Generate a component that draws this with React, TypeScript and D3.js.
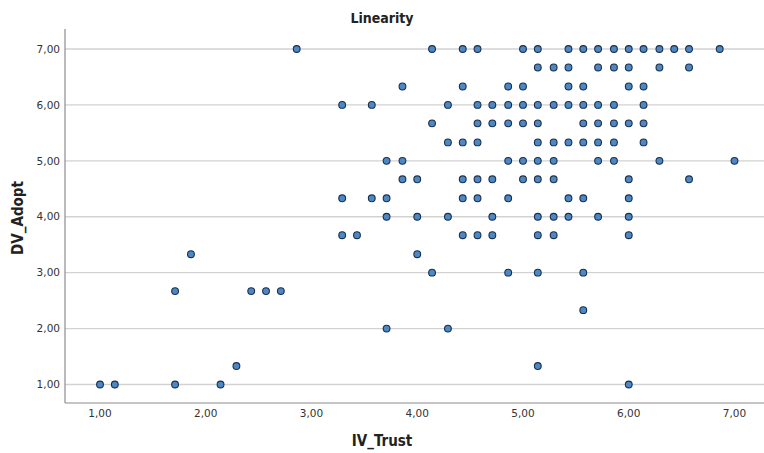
import React from "react";
import * as d3 from "d3";

// DV_Adopt levels (rows of the scatter) and the IV_Trust scores observed at each level
const dvAdoptLevels = [7.0, 6.67, 6.33, 6.0, 5.67, 5.33, 5.0, 4.67, 4.33, 4.0, 3.67, 3.33, 3.0, 2.67, 2.33, 2.0, 1.33, 1.0];

const ivTrustByLevel = [
  [2.86, 4.14, 4.43, 4.57, 5.0, 5.14, 5.43, 5.57, 5.71, 5.86, 6.0, 6.14, 6.29, 6.43, 6.57, 6.86],
  [5.14, 5.29, 5.43, 5.71, 5.86, 6.0, 6.29, 6.57],
  [3.86, 4.43, 4.86, 5.0, 5.43, 5.57, 6.0, 6.14],
  [3.29, 3.57, 4.29, 4.57, 4.71, 4.86, 5.0, 5.14, 5.29, 5.43, 5.57, 5.71, 5.86, 6.14],
  [4.14, 4.57, 4.71, 4.86, 5.0, 5.14, 5.57, 5.71, 5.86, 6.0, 6.14],
  [4.29, 4.43, 4.57, 5.14, 5.29, 5.43, 5.57, 5.71, 5.86, 6.14],
  [3.71, 3.86, 4.86, 5.0, 5.14, 5.29, 5.71, 5.86, 6.29, 7.0],
  [3.86, 4.0, 4.43, 4.57, 4.71, 5.0, 5.14, 5.29, 6.0, 6.57],
  [3.29, 3.57, 3.71, 4.43, 4.57, 4.86, 5.43, 5.57, 6.0],
  [3.71, 4.0, 4.29, 4.71, 5.14, 5.29, 5.43, 5.71, 6.0],
  [3.29, 3.43, 4.43, 4.57, 4.71, 5.14, 5.29, 6.0],
  [1.86, 4.0],
  [4.14, 4.86, 5.14, 5.57],
  [1.71, 2.43, 2.57, 2.71],
  [5.57],
  [3.71, 4.29],
  [2.29, 5.14],
  [1.0, 1.14, 1.71, 2.14, 6.0],
];

const xTicks = [1, 2, 3, 4, 5, 6, 7];
const yTicks = [1, 2, 3, 4, 5, 6, 7];

const W = 764;
const H = 453;
const plotLeft = 65;
const plotRight = 764;
const plotTop = 29;
const plotBottom = 403;

const x = d3.scaleLinear().domain([1, 7]).range([100, 734.5]);
const y = d3.scaleLinear().domain([1, 7]).range([384.5, 49]);

const fmt = (v: number) => d3.format(".2f")(v).replace(".", ",");

const points = dvAdoptLevels.flatMap((adopt, i) =>
  ivTrustByLevel[i].map((trust) => ({ trust, adopt }))
);

const sans = "'DejaVu Sans', 'Liberation Sans', sans-serif";
const condensed = "'DejaVu Sans Condensed', 'Liberation Sans Narrow', 'DejaVu Sans', sans-serif";

export default function App() {
  return (
    <svg
      width={W}
      height={H}
      style={{ position: "absolute", left: 0, top: 0, background: "#fff" }}
    >
      {/* horizontal grid */}
      {yTicks.map((t) => (
        <line
          key={"g" + t}
          x1={plotLeft}
          x2={plotRight}
          y1={y(t)}
          y2={y(t)}
          stroke="#d2d2d2"
          strokeWidth={1.4}
        />
      ))}

      {/* axes */}
      <line x1={plotLeft} x2={plotLeft} y1={plotTop} y2={plotBottom} stroke="#8c8c8c" strokeWidth={1.2} />
      <line x1={plotLeft} x2={plotRight} y1={plotBottom} y2={plotBottom} stroke="#8c8c8c" strokeWidth={1.2} />

      {/* y tick labels */}
      {yTicks.map((t) => (
        <text
          key={"yl" + t}
          x={60}
          y={y(t)}
          dy="0.35em"
          textAnchor="end"
          fontFamily={sans}
          fontSize={10.5}
          fill="#333"
        >
          {fmt(t)}
        </text>
      ))}

      {/* x tick labels */}
      {xTicks.map((t) => (
        <text
          key={"xl" + t}
          x={x(t)}
          y={417}
          textAnchor="middle"
          fontFamily={sans}
          fontSize={10.5}
          fill="#333"
        >
          {fmt(t)}
        </text>
      ))}

      {/* points */}
      {points.map((p, i) => (
        <circle
          key={i}
          cx={x(p.trust)}
          cy={y(p.adopt)}
          r={3.4}
          fill="#4c88c6"
          stroke="#1b2f4a"
          strokeWidth={1.1}
        />
      ))}

      {/* titles */}
      <text x={382} y={23} textAnchor="middle" fontFamily={condensed} fontWeight="bold" fontSize={14} fill="#222">
        Linearity
      </text>
      <text x={382} y={446} textAnchor="middle" fontFamily={condensed} fontWeight="bold" fontSize={15} fill="#222">
        IV_Trust
      </text>
      <text
        transform={`translate(23, 218) rotate(-90)`}
        textAnchor="middle"
        fontFamily={condensed}
        fontWeight="bold"
        fontSize={15}
        fill="#222"
      >
        DV_Adopt
      </text>
    </svg>
  );
}
